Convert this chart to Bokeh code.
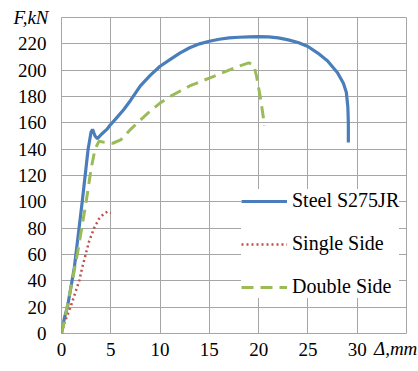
from bokeh.plotting import figure
from bokeh.models import Range1d, FixedTicker, Legend, LegendItem, LinearAxis
from bokeh.embed import file_html
from bokeh.resources import INLINE

# Steel S275JR (displacement mm, force kN)
steel_x = [0, 0.3, 0.6, 1.3, 2.1, 2.7, 3.0, 3.15, 3.4, 3.65, 4.0, 4.3, 4.6, 4.9, 5.5, 6.3, 7, 8, 9, 10,
           11, 12, 13, 14, 15, 16, 17, 18, 19, 20, 21, 22, 23, 24, 25, 26, 27, 28, 28.6, 28.9, 29.05, 29.1, 29.1]
steel_y = [0, 12, 20, 50, 100, 140, 153, 155, 150, 148, 151, 153, 155, 158, 163, 170, 177, 188, 196, 203,
           208, 213, 217, 220, 222, 223.5, 224.5, 225, 225.3, 225.5, 225.3, 224.5, 223, 221, 218, 213, 207, 198,
           190, 183, 172, 160, 145]

# Single Side
single_x = [0, 0.3, 0.6, 1.0, 1.4, 1.8, 2.1, 2.45, 2.8, 3.3, 3.8, 4.3, 4.65, 5.0]
single_y = [0, 8, 14, 22, 31, 40, 50, 60, 70, 80, 87, 91, 92.5, 91.5]

# Double Side
double_x = [0, 0.3, 0.7, 1.6, 2.5, 3.0, 3.4, 3.8, 4.5, 5.2, 6, 7, 8, 9, 10, 11, 12, 13, 14, 15, 16, 17,
            18, 19, 19.5, 19.8, 20.2, 20.6]
double_y = [0, 10, 25, 60, 100, 125, 140, 146, 145, 144.5, 147, 155, 162, 169, 175, 180, 184, 188, 191,
            194, 197, 200, 203, 205.5, 204, 195, 178, 158]

x_ticks = [0, 5, 10, 15, 20, 25, 30]
y_ticks = [0, 20, 40, 60, 80, 100, 120, 140, 160, 180, 200, 220]
x_title = "Δ,mm"
y_title = "F,kN"

FONT = "Liberation Serif"

p = figure(width=418, height=371, output_backend="svg", toolbar_location=None,
           x_range=Range1d(0, 35), y_range=Range1d(0, 240),
           min_border_left=61, min_border_right=12, min_border_top=17, min_border_bottom=38)

p.outline_line_color = "#a6a6a6"
p.outline_line_width = 1
p.background_fill_color = "white"
p.border_fill_color = "white"


def style_axis(ax, size="19px"):
    ax.axis_line_color = None
    ax.major_tick_line_color = None
    ax.minor_tick_line_color = None
    ax.major_tick_in = 0
    ax.major_tick_out = 0
    ax.major_label_text_font = FONT
    ax.major_label_text_font_size = size
    ax.major_label_text_color = "black"


p.xaxis[0].ticker = FixedTicker(ticks=x_ticks)
p.yaxis[0].ticker = FixedTicker(ticks=y_ticks)
style_axis(p.xaxis[0])
style_axis(p.yaxis[0])
p.xaxis[0].major_label_standoff = 9
p.yaxis[0].major_label_standoff = 15

# axis titles as extra single-tick axes (italic)
ax_t = LinearAxis(ticker=FixedTicker(ticks=[33.9]), major_label_overrides={33.9: x_title})
style_axis(ax_t, "19px")
ax_t.major_label_text_font_style = "italic"
ax_t.major_label_standoff = -21
p.add_layout(ax_t, "below")

ay_t = LinearAxis(ticker=FixedTicker(ticks=[240]), major_label_overrides={240: y_title})
style_axis(ay_t, "19px")
ay_t.major_label_text_font_style = "italic"
ay_t.major_label_standoff = -34
p.add_layout(ay_t, "left")

p.xgrid.ticker = FixedTicker(ticks=x_ticks)
p.ygrid.ticker = FixedTicker(ticks=y_ticks)
p.xgrid.grid_line_color = "#a6a6a6"
p.ygrid.grid_line_color = "#a6a6a6"

r_steel = p.line(steel_x, steel_y, line_color="#4a7ebb", line_width=3.2)
r_single = p.line(single_x, single_y, line_color="#c0504d", line_width=2.5, line_dash="2 3")
r_double = p.line(double_x, double_y, line_color="#9bbb59", line_width=3, line_dash="12 7")

legend = Legend(items=[LegendItem(label="Steel S275JR", renderers=[r_steel]),
                       LegendItem(label="Single Side", renderers=[r_single]),
                       LegendItem(label="Double Side", renderers=[r_double])],
                location=(180, 35), orientation="vertical",
                background_fill_color="white", background_fill_alpha=1.0,
                border_line_color=None, padding=5, spacing=20,
                glyph_width=46, glyph_height=20, label_height=20, label_standoff=5,
                label_text_font=FONT, label_text_font_size="20px", label_text_color="black",
                margin=0)
p.add_layout(legend, "center")

open("out.html", "w").write(file_html(p, INLINE))
